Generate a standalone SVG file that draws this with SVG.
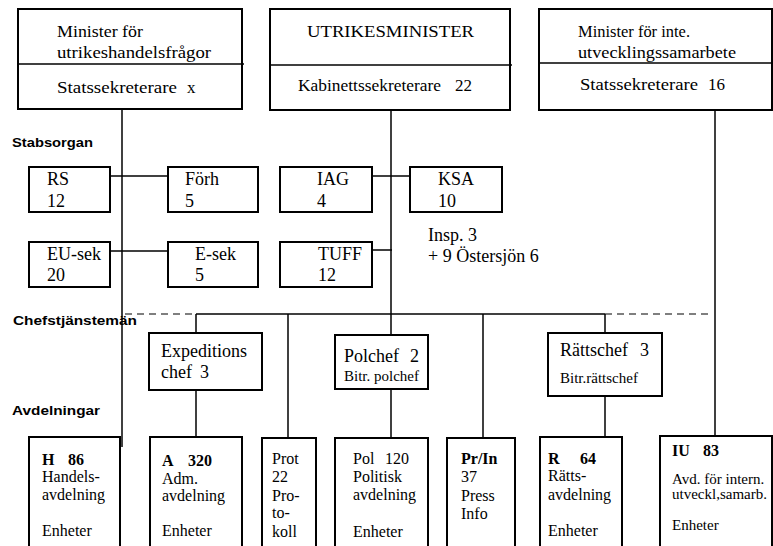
<svg xmlns="http://www.w3.org/2000/svg" width="773" height="546" viewBox="0 0 773 546">
<style>
.box{fill:#fff;stroke:#000;stroke-width:2}
.ln{stroke:#000;stroke-width:1.5;fill:none}
.dash{stroke:#000;stroke-width:1.2;fill:none;stroke-dasharray:7,5}
text{font-family:"Liberation Serif","Times New Roman",serif;fill:#000}
.top{font-size:17px}
.mid{font-size:18px}
.sm{font-size:15px}
.bt{font-size:16px}
.b{font-weight:bold}
.lab{font-family:"Liberation Sans",Arial,sans-serif;font-weight:bold;font-size:13px}
</style>
<rect width="773" height="546" fill="#fff"/>
<g id="connectors">
<line class="ln" x1="122" y1="109" x2="122" y2="447"/>
<line class="ln" x1="391" y1="110" x2="391" y2="438"/>
<line class="ln" x1="715" y1="110" x2="715" y2="436"/>
<line class="ln" x1="110" y1="176" x2="168" y2="176"/>
<line class="ln" x1="110" y1="251" x2="168" y2="251"/>
<line class="ln" x1="372" y1="176" x2="410" y2="176"/>
<line class="ln" x1="372" y1="250" x2="392" y2="250"/>
<line class="dash" x1="125" y1="314" x2="196" y2="314"/>
<line class="ln" x1="196" y1="314" x2="605" y2="314"/>
<line class="dash" x1="605" y1="314" x2="712" y2="314"/>
<line class="ln" x1="196" y1="314" x2="196" y2="437"/>
<line class="ln" x1="288" y1="314" x2="288" y2="438"/>
<line class="ln" x1="483" y1="314" x2="483" y2="438"/>
<line class="ln" x1="605" y1="314" x2="605" y2="437"/>
</g>
<g id="labels">
<text class="lab" x="12" y="147" textLength="81" lengthAdjust="spacingAndGlyphs">Stabsorgan</text>
<text class="lab" x="13" y="325" textLength="124" lengthAdjust="spacingAndGlyphs">Chefstjänstemän</text>
<text class="lab" x="12" y="415" textLength="88" lengthAdjust="spacingAndGlyphs">Avdelningar</text>
</g>
<g id="minister-handel">
<rect class="box" x="18" y="9" width="224" height="100"/>
<line class="ln" x1="18" y1="64" x2="244" y2="64"/>
<text class="top" x="57" y="37" textLength="86" lengthAdjust="spacingAndGlyphs">Minister för</text>
<text class="top" x="57" y="58" textLength="154" lengthAdjust="spacingAndGlyphs">utrikeshandelsfrågor</text>
<text class="top" x="57" y="93" textLength="120" lengthAdjust="spacingAndGlyphs">Statssekreterare</text>
<text class="top" x="187" y="93">x</text>
</g>
<g id="utrikesminister">
<rect class="box" x="270" y="9" width="240" height="101"/>
<line class="ln" x1="270" y1="65" x2="512" y2="65"/>
<text class="top" x="307" y="37" textLength="167" lengthAdjust="spacingAndGlyphs">UTRIKESMINISTER</text>
<text class="top" x="298" y="91" textLength="143" lengthAdjust="spacingAndGlyphs">Kabinettssekreterare</text>
<text class="top" x="455" y="91">22</text>
</g>
<g id="minister-utv">
<rect class="box" x="539" y="9" width="233" height="101"/>
<line class="ln" x1="539" y1="63" x2="772" y2="63"/>
<text class="top" x="578" y="37" textLength="112" lengthAdjust="spacingAndGlyphs">Minister för inte.</text>
<text class="top" x="578" y="58" textLength="158" lengthAdjust="spacingAndGlyphs">utvecklingssamarbete</text>
<text class="top" x="580" y="90" textLength="118" lengthAdjust="spacingAndGlyphs">Statssekreterare</text>
<text class="top" x="708" y="90">16</text>
</g>
<g id="rs"><rect class="box" x="29" y="167" width="81" height="45"/><text class="mid" x="47" y="185">RS</text><text class="mid" x="47" y="207">12</text></g>
<g id="forh"><rect class="box" x="168" y="167" width="90" height="45"/><text class="mid" x="185" y="185">Förh</text><text class="mid" x="185" y="207">5</text></g>
<g id="eusek"><rect class="box" x="29" y="242" width="81" height="45"/><text class="mid" x="47" y="260">EU-sek</text><text class="mid" x="47" y="281">20</text></g>
<g id="esek"><rect class="box" x="168" y="242" width="90" height="45"/><text class="mid" x="195" y="260">E-sek</text><text class="mid" x="195" y="281">5</text></g>
<g id="iag"><rect class="box" x="280" y="167" width="92" height="45"/><text class="mid" x="317" y="185">IAG</text><text class="mid" x="317" y="207">4</text></g>
<g id="ksa"><rect class="box" x="410" y="167" width="92" height="45"/><text class="mid" x="438" y="185">KSA</text><text class="mid" x="438" y="207">10</text></g>
<g id="tuff"><rect class="box" x="280" y="242" width="92" height="45"/><text class="mid" x="318" y="260">TUFF</text><text class="mid" x="318" y="281">12</text></g>
<g id="insp"><text class="mid" x="428" y="241">Insp. 3</text><text class="mid" x="428" y="262">+ 9 Östersjön 6</text></g>
<g id="expeditionschef"><rect class="box" x="149" y="333" width="113" height="57"/><text class="mid" x="161" y="357">Expeditions</text><text class="mid" x="161" y="378">chef</text><text class="mid" x="200" y="378">3</text></g>
<g id="polchef"><rect class="box" x="335" y="335" width="93" height="54"/><text class="mid" x="344" y="362">Polchef</text><text class="mid" x="410" y="362">2</text><text class="sm" x="344" y="381">Bitr. polchef</text></g>
<g id="rattschef"><rect class="box" x="548" y="333" width="114" height="63"/><text class="mid" x="560" y="356">Rättschef</text><text class="mid" x="640" y="356">3</text><text class="sm" x="560" y="383">Bitr.rättschef</text></g>
<g id="h"><rect class="box" x="29" y="437" width="91" height="130"/>
<text class="bt b" x="42" y="465">H</text><text class="bt b" x="68" y="465">86</text>
<text class="bt" x="42" y="482">Handels-</text><text class="bt" x="42" y="500">avdelning</text><text class="bt" x="42" y="536">Enheter</text></g>
<g id="a"><rect class="box" x="150" y="437" width="92" height="130"/>
<text class="bt b" x="162" y="466">A</text><text class="bt b" x="188" y="466">320</text>
<text class="bt" x="162" y="484">Adm.</text><text class="bt" x="162" y="501">avdelning</text><text class="bt" x="162" y="536">Enheter</text></g>
<g id="prot"><rect class="box" x="262" y="438" width="54" height="130"/>
<text class="bt" x="272" y="464">Prot</text><text class="bt" x="272" y="482">22</text><text class="bt" x="272" y="501">Pro-</text><text class="bt" x="272" y="518">to-</text><text class="bt" x="272" y="537">koll</text></g>
<g id="pol"><rect class="box" x="335" y="438" width="93" height="130"/>
<text class="bt" x="353" y="464">Pol</text><text class="bt" x="385" y="464">120</text>
<text class="bt" x="353" y="482">Politisk</text><text class="bt" x="353" y="500">avdelning</text><text class="bt" x="353" y="537">Enheter</text></g>
<g id="prin"><rect class="box" x="447" y="438" width="68" height="130"/>
<text class="bt b" x="461" y="464">Pr/In</text><text class="bt" x="461" y="482">37</text><text class="bt" x="461" y="501">Press</text><text class="bt" x="461" y="519">Info</text></g>
<g id="r"><rect class="box" x="540" y="437" width="82" height="130"/>
<text class="bt b" x="548" y="464">R</text><text class="bt b" x="580" y="464">64</text>
<text class="bt" x="548" y="481">Rätts-</text><text class="bt" x="548" y="500">avdelning</text><text class="bt" x="548" y="536">Enheter</text></g>
<g id="iu"><rect class="box" x="660" y="436" width="112" height="130"/>
<text class="bt b" x="672" y="456">IU</text><text class="bt b" x="703" y="456">83</text>
<text class="sm" x="672" y="484">Avd. för intern.</text><text class="sm" x="672" y="499">utveckl,samarb.</text><text class="sm" x="672" y="530">Enheter</text></g>
</svg>
